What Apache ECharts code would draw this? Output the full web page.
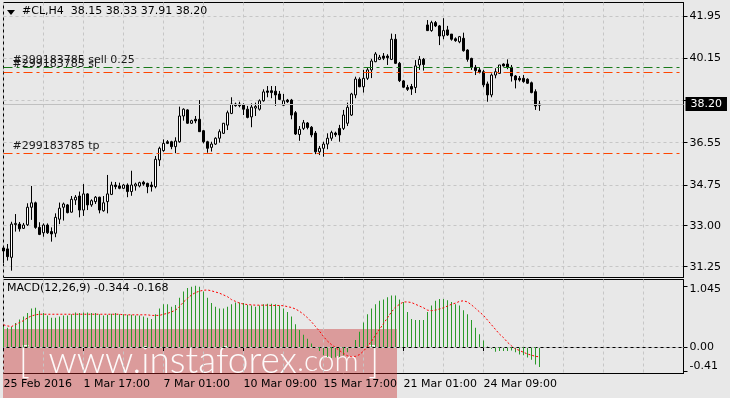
<!DOCTYPE html>
<html><head><meta charset="utf-8">
<script src="https://cdn.jsdelivr.net/npm/echarts@6/dist/echarts.min.js"></script>
<style>html,body{margin:0;padding:0;background:#e8e8e8;}#c{width:730px;height:398px;}</style>
</head><body><div id="c"></div>
<script>
const symbolName = '#CL,H4';
const tickLabels = ['25 Feb 2016','1 Mar 17:00','7 Mar 01:00','10 Mar 09:00','15 Mar 17:00','21 Mar 01:00','24 Mar 09:00'];
const barsPerTick = 20;
const totalSlots = 171;
const priceTicks = [41.95, 40.15, 38.35, 36.55, 34.75, 33.00, 31.25];
const orderLevels = [39.77, 39.57, 36.08];
const orderLabels = ['#299183785 sell 0.25', '#299183785 sl', '#299183785 tp'];
const macdTicks = [1.045, 0, -0.41];
const macdTickLabels = ['1.045', '0.00', '-0.41'];
// [open, close, low, high]
const candles = [
[32.05,31.92,31.41,32.13],[32.01,31.68,31.51,32.22],[31.65,33.07,31.08,33.17],[33.05,33.10,32.75,33.50],
[33.07,32.87,32.75,33.16],[32.89,33.03,32.86,33.12],[33.04,33.79,32.99,33.96],[33.79,33.98,33.25,34.70],
[33.98,32.93,32.87,34.03],[32.93,32.63,32.60,33.15],[32.70,33.03,32.53,33.10],[33.03,32.70,32.65,33.10],
[32.75,32.65,32.32,32.93],[32.68,33.36,32.51,33.53],[33.28,33.75,33.07,33.99],[33.79,33.93,33.22,33.99],
[33.89,33.56,33.53,33.93],[33.58,34.13,33.56,34.27],[34.10,34.22,33.89,34.31],[34.27,33.67,33.36,34.46],
[33.67,34.36,33.42,34.78],[34.36,33.89,33.67,34.39],[33.89,34.07,33.81,34.13],[34.03,34.22,33.93,34.27],
[34.22,33.67,33.53,34.24],[33.64,33.98,33.60,34.27],[34.03,34.36,33.53,35.17],[34.34,34.74,34.31,34.88],
[34.74,34.67,34.56,34.87],[34.70,34.60,34.56,34.84],[34.60,34.74,34.57,34.78],[34.74,34.46,34.22,34.81],
[34.46,34.74,34.28,35.35],[34.70,34.78,34.50,34.84],[34.70,34.84,34.64,34.88],[34.86,34.78,34.71,34.92],
[34.81,34.67,34.39,34.84],[34.74,34.67,34.46,34.88],[34.67,35.84,34.60,35.98],[35.81,36.31,35.55,36.38],
[36.21,36.52,36.16,36.69],[36.59,36.52,36.49,36.66],[36.59,36.38,36.27,36.63],[36.38,36.62,36.10,36.78],
[36.59,37.69,36.55,38.09],[37.69,37.98,37.49,38.02],[37.95,37.38,37.35,37.98],[37.38,37.49,37.35,37.53],
[37.55,37.48,37.38,37.69],[37.55,37.02,37.01,38.37],[37.06,36.59,36.52,37.09],[36.59,36.31,36.12,36.63],
[36.35,36.49,36.17,36.59],[36.49,36.74,36.45,36.78],[36.74,37.02,36.55,37.12],[36.95,37.38,36.92,37.39],
[37.30,37.83,37.09,37.92],[37.80,38.20,37.77,38.49],[38.20,38.13,38.09,38.26],[38.20,38.13,38.06,38.30],
[38.16,37.98,37.73,38.23],[37.98,37.63,37.59,38.12],[37.65,38.07,37.21,38.23],[38.03,38.10,37.69,38.26],
[37.98,38.34,37.92,38.40],[38.34,38.72,38.30,38.83],[38.76,38.70,38.49,38.97],[38.77,38.69,38.45,38.97],
[38.75,38.59,38.12,38.97],[38.63,38.40,38.37,38.76],[38.15,38.34,38.12,38.63],[38.37,38.30,38.25,38.42],
[38.37,37.73,37.55,38.42],[37.83,36.92,36.88,37.90],[36.90,37.12,36.63,37.26],[37.16,37.40,37.09,37.52],
[37.39,37.20,37.12,37.43],[37.21,36.88,36.78,37.26],[36.96,36.16,36.06,37.05],[36.16,36.31,36.02,36.41],
[36.31,36.49,35.95,36.59],[36.49,36.74,36.27,36.95],[36.74,36.98,36.63,37.06],[36.96,36.89,36.80,37.02],
[37.16,36.88,36.59,37.31],[37.16,37.73,37.09,37.95],[37.38,38.06,37.26,38.26],[37.73,38.63,37.69,38.68],
[38.59,39.27,38.45,39.37],[39.26,38.94,38.92,39.34],[38.94,39.30,38.69,39.66],[39.30,39.66,39.23,39.74],
[39.66,40.04,39.31,40.13],[40.01,40.34,39.99,40.42],[40.11,40.20,40.08,40.30],[40.25,40.16,40.08,40.38],
[40.25,40.18,39.87,40.33],[40.11,40.97,40.08,41.21],[40.97,39.94,39.91,41.19],[39.94,39.20,39.14,40.00],
[39.19,38.92,38.89,39.23],[38.91,38.83,38.76,39.02],[38.95,38.84,38.59,39.06],[38.91,39.83,38.67,40.08],
[39.87,40.11,39.66,40.25],[40.11,39.89,39.63,40.17],[41.58,41.34,41.32,41.79],[41.34,41.68,41.29,41.76],
[41.68,41.54,41.49,41.75],[41.54,41.11,40.72,41.58],[41.11,41.34,40.97,41.87],[41.37,41.15,41.11,41.54],
[41.19,40.97,40.91,41.19],[40.99,40.91,40.86,41.05],[40.86,41.08,40.80,41.11],[41.01,40.48,40.44,41.25],
[40.51,40.11,40.01,40.54],[40.15,39.77,39.66,40.18],[39.77,39.63,39.44,39.87],[39.66,39.56,39.51,39.77],
[39.58,39.02,38.92,39.66],[39.06,38.59,38.30,39.16],[38.59,39.44,38.49,39.51],[39.44,39.58,39.30,39.73],
[39.51,39.87,39.51,39.87],[39.91,39.83,39.80,39.94],[39.91,39.77,39.69,40.11],[39.77,39.40,39.16,39.87],
[39.40,39.23,38.87,39.44],[39.30,39.23,39.16,39.40],[39.30,39.16,39.11,39.44],[39.26,39.09,39.06,39.30],
[39.11,38.69,38.66,39.16],[38.73,38.12,37.95,38.83],[38.15,38.20,37.91,38.33]
];
const macdHist = [
0.35,0.33,0.34,0.41,0.47,0.52,0.58,0.66,0.67,0.62,
0.58,0.54,0.50,0.50,0.52,0.54,0.54,0.56,0.59,0.58,
0.59,0.59,0.58,0.58,0.56,0.54,0.55,0.57,0.58,0.56,
0.56,0.55,0.55,0.54,0.54,0.52,0.50,0.48,0.56,0.66,
0.73,0.73,0.69,0.72,0.84,0.95,1.01,1.03,1.045,1.03,
0.95,0.84,0.75,0.69,0.66,0.66,0.69,0.73,0.76,0.76,
0.75,0.72,0.71,0.69,0.71,0.73,0.74,0.74,0.73,0.71,
0.66,0.60,0.52,0.39,0.29,0.21,0.14,0.06,-0.01,-0.07,
-0.14,-0.17,-0.19,-0.18,-0.17,-0.14,-0.09,-0.01,0.12,0.26,
0.42,0.56,0.66,0.73,0.79,0.81,0.85,0.88,0.88,0.81,
0.77,0.60,0.48,0.46,0.46,0.46,0.60,0.71,0.79,0.82,
0.82,0.80,0.77,0.73,0.71,0.63,0.56,0.46,0.33,0.22,
0.11,0.01,-0.03,-0.08,-0.07,-0.07,-0.07,-0.06,-0.09,-0.13,
-0.14,-0.18,-0.22,-0.30,-0.344
];
const macdSignal = [
0.38,0.36,0.35,0.38,0.42,0.45,0.50,0.53,0.55,0.56,
0.56,0.56,0.56,0.56,0.56,0.56,0.56,0.56,0.56,0.56,
0.56,0.56,0.56,0.56,0.56,0.56,0.56,0.56,0.56,0.56,
0.55,0.55,0.55,0.55,0.55,0.55,0.55,0.54,0.54,0.54,
0.56,0.575,0.60,0.63,0.69,0.77,0.83,0.89,0.93,0.955,
0.97,0.975,0.96,0.94,0.92,0.89,0.86,0.81,0.78,0.75,
0.735,0.725,0.72,0.715,0.715,0.715,0.715,0.71,0.71,0.71,
0.705,0.69,0.675,0.65,0.61,0.56,0.50,0.43,0.35,0.27,
0.18,0.10,0.04,-0.01,-0.06,-0.11,-0.15,-0.165,-0.16,-0.13,
-0.07,0.01,0.10,0.20,0.30,0.40,0.50,0.60,0.68,0.73,
0.77,0.77,0.76,0.73,0.70,0.67,0.63,0.62,0.63,0.65,
0.67,0.70,0.73,0.75,0.78,0.79,0.77,0.72,0.66,0.60,
0.54,0.46,0.38,0.30,0.22,0.16,0.08,0.02,-0.03,-0.06,
-0.09,-0.12,-0.14,-0.16,-0.168
];

const font = 'DejaVu Sans';
const gridColor = '#c6c6c6';
const histColor = '#2a9a2a';
const dash = [3, 3];
const cats = Array.from({length: totalSlots}, (_, i) => String(i));
const last = candles[candles.length - 1];
const n = macdHist.length;
const showTick = (i) => i % barsPerTick === 0 && i / barsPerTick < tickLabels.length;
const vGrid = (i) => i % 10 === 0;
const txt = {fontFamily: font, fontSize: 11, color: '#000'};
// the price tag covers the axis label nearest the last close
const priceLabelValues = priceTicks.filter(v => Math.abs(v - last[1]) > 0.3);
const lineLabel = (t) => ({show: true, position: 'insideStartTop', formatter: t, distance: [9, 2],
  fontFamily: font, fontSize: 11, color: '#1a1a1a'});
const wmFont = '"Lato Light", "Open Sans Light", "Roboto Light", "Open Sans", sans-serif';
const wmFill = 'rgba(255,255,255,0.95)';

const option = {
  animation: false,
  backgroundColor: '#e8e8e8',
  textStyle: {fontFamily: font, fontSize: 11, color: '#000'},
  grid: [
    {left: 3.5, right: 46.5, top: 2.5, height: 275, show: true, borderColor: '#000', borderWidth: 1},
    {left: 3.5, right: 46.5, top: 279.5, height: 94, show: true, borderColor: '#000', borderWidth: 1}
  ],
  title: [
    {text: symbolName + '  ' + [last[0], last[3], last[2], last[1]].map(v => v.toFixed(2)).join(' '),
     left: 22, top: 6, padding: 0, textStyle: Object.assign({fontWeight: 'normal'}, txt)},
    {text: 'MACD(12,26,9) ' + macdHist[n - 1].toFixed(3) + ' ' + macdSignal[n - 1].toFixed(3),
     left: 7, top: 283, padding: 0, textStyle: Object.assign({fontWeight: 'normal'}, txt)}
  ],
  xAxis: [
    {type: 'category', gridIndex: 0, data: cats, boundaryGap: false,
     axisLine: {show: false}, axisTick: {show: false}, axisLabel: {show: false},
     splitLine: {show: true, interval: vGrid, lineStyle: {color: gridColor, type: dash}}},
    {type: 'category', gridIndex: 1, data: cats, boundaryGap: false,
     axisLine: {show: true, lineStyle: {color: '#000'}},
     axisTick: {show: true, interval: showTick, length: 4, lineStyle: {color: '#000'}},
     axisLabel: Object.assign({show: true, interval: showTick, align: 'left', margin: 5,
       formatter: (v, i) => (showTick(i) ? tickLabels[i / barsPerTick] : '')}, txt),
     splitLine: {show: true, interval: vGrid, lineStyle: {color: gridColor, type: dash}}}
  ],
  yAxis: [
    {type: 'value', gridIndex: 0, position: 'right', min: 30.788, max: 42.540, scale: true,
     axisLine: {show: true, lineStyle: {color: '#000'}},
     axisTick: {show: true, length: 4, customValues: priceTicks, lineStyle: {color: '#000'}},
     axisLabel: Object.assign({customValues: priceLabelValues, margin: 6, formatter: (v) => v.toFixed(2)}, txt),
     splitLine: {show: true, lineStyle: {color: gridColor, type: dash}}},
    {type: 'value', gridIndex: 1, position: 'right', min: -0.453, max: 1.1538,
     axisLine: {show: true, lineStyle: {color: '#000'}},
     axisTick: {show: true, length: 4, customValues: macdTicks, lineStyle: {color: '#000'}},
     axisLabel: Object.assign({customValues: macdTicks, margin: 6,
       formatter: (v) => {
         const k = macdTicks.findIndex(t => Math.abs(t - v) < 1e-6);
         const s = k >= 0 ? macdTickLabels[k] : '';
         return v > 0.5 ? '{t|' + s + '}' : (v < 0 ? '{b|' + s + '}' : s);
       },
       rich: {t: Object.assign({padding: [6, 0, 0, 0]}, txt), b: Object.assign({padding: [0, 0, 10, 0]}, txt)}}, txt),
     splitLine: {show: false}}
  ],
  series: [
    {type: 'candlestick', xAxisIndex: 0, yAxisIndex: 0, data: candles, barWidth: 3,
     itemStyle: {color: '#ffffff', color0: '#000000', borderColor: '#000', borderColor0: '#000', borderWidth: 1},
     markLine: {silent: true, symbol: 'none', animation: false,
       data: [
         {yAxis: last[1], lineStyle: {color: '#c0c0c0', type: 'solid', width: 1},
          label: {show: true, position: 'end', formatter: last[1].toFixed(2), backgroundColor: '#000',
                  color: '#fff', padding: [2, 5, 1, 5], distance: 2, fontFamily: font, fontSize: 11}},
         {yAxis: orderLevels[0], lineStyle: {color: '#1a7a1a', type: [9, 4, 3, 4], width: 1}, label: lineLabel(orderLabels[0])},
         {yAxis: orderLevels[1], lineStyle: {color: '#ff4500', type: [9, 4, 3, 4], width: 1}, label: lineLabel(orderLabels[1])},
         {yAxis: orderLevels[2], lineStyle: {color: '#ff4500', type: [9, 4, 3, 4], width: 1}, label: lineLabel(orderLabels[2])}
       ]}},
    {type: 'bar', xAxisIndex: 1, yAxisIndex: 1, data: macdHist, barWidth: 1,
     itemStyle: {color: histColor, borderWidth: 0, borderColor: histColor, opacity: 1},
     markLine: {silent: true, symbol: 'none', animation: false, label: {show: false},
       lineStyle: {color: gridColor, type: dash, width: 1}, data: [{yAxis: 0}]}},
    {type: 'line', xAxisIndex: 1, yAxisIndex: 1, data: macdSignal, showSymbol: false, z: 3,
     lineStyle: {color: '#ff0000', width: 1, type: [2, 2]}}
  ],
  graphic: [
    {type: 'polygon', shape: {points: [[7, 10], [15, 10], [11, 15]]}, style: {fill: '#000'}},
    {type: 'group', z: 100, children: [
      {type: 'rect', shape: {x: 3, y: 329, width: 394, height: 69}, style: {fill: 'rgba(200,40,40,0.4)'}},
      {type: 'text', x: 199, y: 361, style: {
        text: '{k|[}{s|  }{a|www.instaforex}{b|.com}{s| }{k|]}',
        fill: wmFill, fontFamily: wmFont, fontSize: 37, fontWeight: 300, align: 'center', verticalAlign: 'middle',
        rich: {
          k: {fontFamily: wmFont, fontWeight: 300, fontSize: 38, fill: wmFill},
          s: {fontFamily: wmFont, fontWeight: 300, fontSize: 34, fill: wmFill},
          a: {fontFamily: wmFont, fontWeight: 300, fontSize: 37, fill: wmFill},
          b: {fontFamily: wmFont, fontWeight: 300, fontSize: 30, fill: wmFill}
        }}}
    ]}
  ]
};
echarts.init(document.getElementById('c'), null, {renderer: 'canvas'}).setOption(option);
</script></body></html>
